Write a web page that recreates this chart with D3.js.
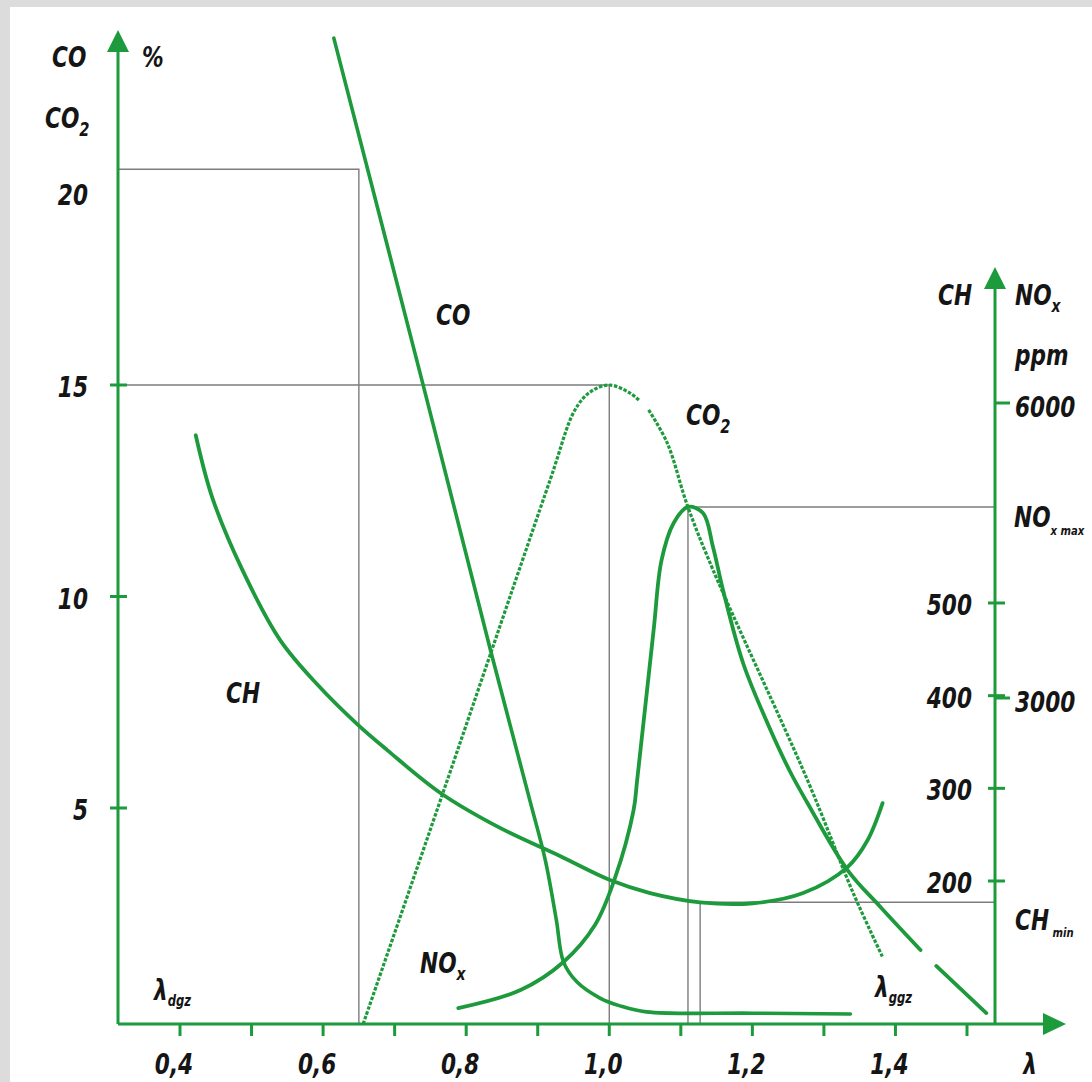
<!DOCTYPE html>
<html><head><meta charset="utf-8">
<script src="https://cdn.jsdelivr.net/npm/d3@7"></script>
<style>
html,body{margin:0;padding:0;background:#dcdcdc;}
svg{display:block;}
text{font-family:"Liberation Sans Narrow","DejaVu Sans Condensed","Arial Narrow",sans-serif;font-stretch:condensed;font-weight:bold;font-style:italic;fill:#151515;}
</style></head><body>
<svg id="c" width="1092" height="1082"></svg>
<script>
// ---------- data ----------
const xTicks = [0.4,0.5,0.6,0.7,0.8,0.9,1.0,1.1,1.2,1.3,1.4,1.5];
const xTickLabels = ["0,4","","0,6","","0,8","","1,0","","1,2","","1,4",""];
const pctTicks = [5,10,15];
const pctLabels = ["5","10","15","20"];
const pctLabelValues = [5,10,15,20];
const chTicks = [200,300,400,500];
const chTickLabels = ["200","300","400","500"];
const noxTicks = [3000,6000];
const noxTickLabels = ["3000","6000"];

// CO [%]
const coLambda = [0.615,0.738,0.834,0.889,0.9105,0.926,0.936,0.955,0.987,1.015,1.052,1.20,1.337];
const coPct    = [23.2, 15.12,8.73, 5.18, 3.80,  2.41, 1.44, 0.97, 0.60, 0.42, 0.28, 0.25,0.23];
// CO2 [%]  (null = gap in the dotted line)
const co2Lambda = [0.656,0.769,0.917,0.952,0.973,1.0,1.029,1.043,null,1.055,1.081,1.109,1.145,1.277,1.341,1.382];
const co2Pct    = [0.0,  5.43, 12.74,14.41,14.83,15.0,14.81,14.62,null,14.41,13.63,12.16,10.63,5.66, 3.03, 1.55];
// CH [ppm]
const chLambda = [0.422,0.445,0.487,0.540,0.592,0.648,0.690,0.764,0.848,0.931,1.001,1.057,1.127,1.201,1.271,1.333,1.361,1.382];
const chPpm    = [681,  614,  536,  460,  412,  369,  341,  295,  257,  227,  201,  187,  177,  176,  187,  215,  244,  284];
// NOx [ppm]
const noxLambda = [0.789,0.876,0.936,0.980,1.008,1.034,1.039,1.062,1.073,1.090,1.110,1.131,1.145,1.159,1.187,1.221,1.253,1.277,1.333,1.379,1.435,null,1.457,1.527];
const noxPpm    = [147,  313,  571,  911,  1344, 1969, 2245, 3692, 4400, 4780, 4943, 4881, 4536, 4098, 3356, 2770, 2319, 2034, 1417, 1077, 681,  null,534,  101];

// reference (guide) lines
const co2MaxLambda = 0.65,  co2MaxPct = 20.1;
const co2PeakLambda = 1.0,  co2PeakPct = 15;
const noxMaxLambda = 1.11,  noxMaxPpm = 4943;
const chMinLambda = 1.127,  chMinPpm = 177;

// ---------- layout ----------
const GREEN = "#1d9a3c", GRAY = "#7d7d7d";
const X0 = 118, X1 = 995, Y0 = 1024;
const SX = 0.86;

const svg = d3.select("#c");
svg.append("rect").attr("x",10).attr("y",7).attr("width",1082).attr("height",1075).attr("fill","#fff");

const x = d3.scaleLinear().domain([0.4,1.5]).range([180,967]);
const yPct = d3.scaleLinear().domain([0,5,15]).range([Y0,808,385]);
const yCH = d3.scaleLinear().domain([200,500]).range([881,603]);
const yNOx = d3.scaleLinear().domain([0,3000,6000]).range([Y0,698,403]);

function txt(xp,yp,anchor,size){
  return svg.append("text").attr("transform",`translate(${xp},${yp}) scale(${SX},1)`)
    .attr("text-anchor",anchor||"start").attr("font-size",size||28);
}

// guide lines
const g = svg.append("g").attr("fill","none").attr("stroke",GRAY).attr("stroke-width",1.4);
g.append("path").attr("d",`M${X0},${yPct(co2MaxPct)}H${x(co2MaxLambda)}V${Y0}`);
g.append("path").attr("d",`M${X0},${yPct(co2PeakPct)}H${x(co2PeakLambda)}V${Y0}`);
g.append("path").attr("d",`M${X1},${yNOx(noxMaxPpm)}H${x(noxMaxLambda)}V${Y0}`);
g.append("path").attr("d",`M${X1},${yCH(chMinPpm)}H${x(chMinLambda)}V${Y0}`);

// curves
function zip(a,b){return a.map((v,i)=>({l:v,v:b[i]}));}
function lineFor(ys){
  return d3.line().defined(d=>d.l!==null).x(d=>x(d.l)).y(d=>ys(d.v)).curve(d3.curveCatmullRom.alpha(0.5));
}
const cg = svg.append("g").attr("fill","none").attr("stroke",GREEN).attr("stroke-linecap","round").attr("stroke-linejoin","round");
cg.append("path").attr("d",lineFor(yPct)(zip(co2Lambda,co2Pct))).attr("stroke-width",3.2).attr("stroke-dasharray","3.5 1.6").attr("stroke-linecap","butt");
cg.append("path").attr("d",lineFor(yPct)(zip(coLambda,coPct))).attr("stroke-width",3.6);
cg.append("path").attr("d",lineFor(yCH)(zip(chLambda,chPpm))).attr("stroke-width",3.8);
cg.append("path").attr("d",lineFor(yNOx)(zip(noxLambda,noxPpm))).attr("stroke-width",3.8);

// axes
const ax = svg.append("g").attr("stroke",GREEN).attr("stroke-width",3).attr("fill","none");
ax.append("line").attr("x1",X0).attr("y1",Y0).attr("x2",X0).attr("y2",45);
ax.append("line").attr("x1",X1).attr("y1",Y0).attr("x2",X1).attr("y2",282);
ax.append("line").attr("x1",X0).attr("y1",Y0).attr("x2",1050).attr("y2",Y0);
const ar = svg.append("g").attr("fill",GREEN);
ar.append("path").attr("d",`M${X0},30L${X0-11},52L${X0+11},52Z`);
ar.append("path").attr("d",`M${X1},267L${X1-11},289L${X1+11},289Z`);
ar.append("path").attr("d",`M1066,${Y0}L1043,${Y0-11}L1043,${Y0+11}Z`);

// x ticks
xTicks.forEach((t,i)=>{
  ax.append("line").attr("x1",x(t)).attr("x2",x(t)).attr("y1",Y0).attr("y2",Y0+12);
  if(xTickLabels[i]) txt(x(t)-6,1074,"middle").text(xTickLabels[i]);
});
txt(1030,1074,"middle").text("λ");

// left ticks
pctTicks.forEach(t=>{
  ax.append("line").attr("x1",X0-8).attr("x2",X0+9).attr("y1",yPct(t)).attr("y2",yPct(t));
});
pctLabelValues.forEach((t,i)=>{
  const yy = t===20 ? yPct(t)+31 : yPct(t)+12;
  txt(88,yy,"end").text(pctLabels[i]);
});

// right ticks
chTicks.forEach((t,i)=>{
  ax.append("line").attr("x1",X1-7).attr("x2",X1+10).attr("y1",yCH(t)).attr("y2",yCH(t));
  txt(972,yCH(t)+12,"end").text(chTickLabels[i]);
});
noxTicks.forEach((t,i)=>{
  ax.append("line").attr("x1",X1).attr("x2",X1+15).attr("y1",yNOx(t)).attr("y2",yNOx(t));
  txt(1015,yNOx(t)+14,"start").text(noxTickLabels[i]);
});

// labels
function label(xp,yp,main,sub,subSize,subDy){
  const t = txt(xp,yp,"start");
  t.append("tspan").text(main);
  if(sub) t.append("tspan").attr("font-size",subSize).attr("dy",subDy).text(sub);
  return t;
}
label(52,67,"CO");
label(142,67,"%");
label(45,128,"CO","2",19,8);
label(938,305,"CH");
label(1015,305,"NO","x",18,7);
label(1015,365,"ppm");
label(1014,527,"NO","x max",13,8);
label(1015,930,"CH"," min",13,7);
label(436,325,"CO");
label(686,425,"CO","2",19,8);
label(226,703,"CH");
label(420,973,"NO","x",18,7);
label(154,1000,"λ","dgz",15,6);
label(875,997,"λ","ggz",15,6);
</script>
</body></html>
